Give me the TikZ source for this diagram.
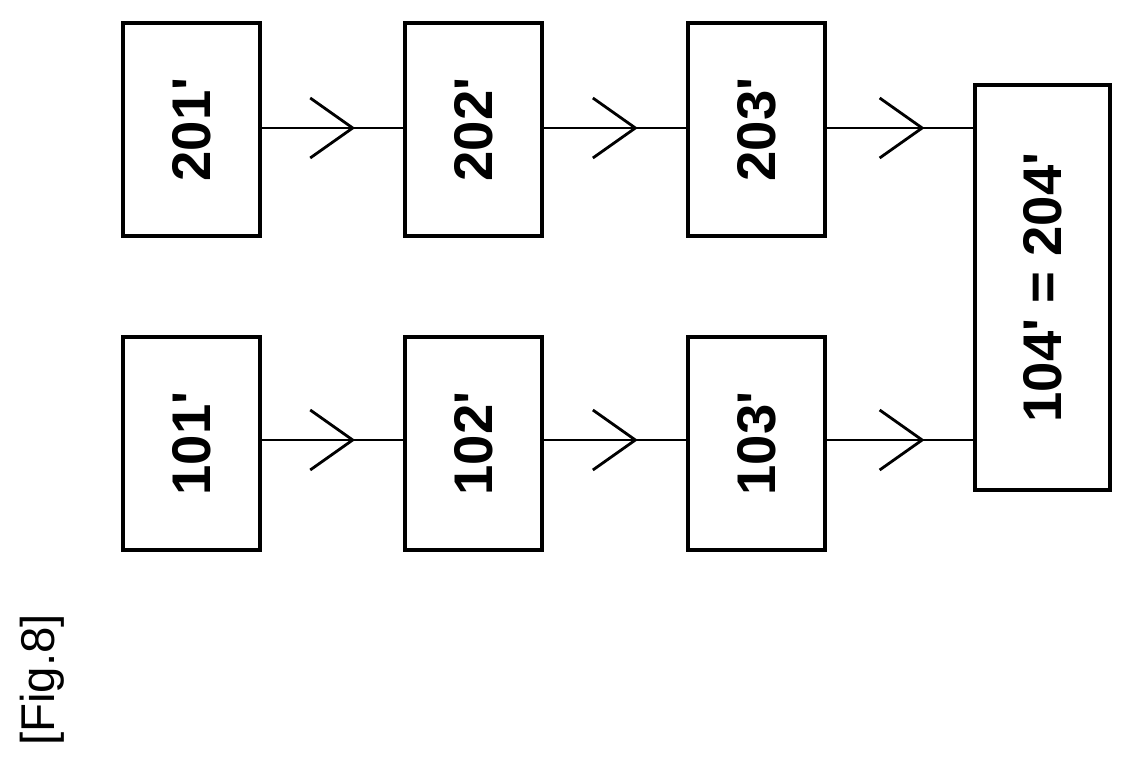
\documentclass[tikz,border=0pt]{standalone}
\usepackage{fontspec}
\setmainfont[Ligatures=NoCommon,Mapping=]{Liberation Sans}
\usetikzlibrary{arrows.meta,decorations.markings}
\newcommand{\pr}{\symbol{"0027}}
\begin{document}
\begin{tikzpicture}[x=0.02cm,y=-0.02cm,
    blockbox/.style={draw, line width=2pt, minimum width=2.74cm, minimum height=4.26cm, inner sep=0pt},
    link/.style={line width=1.6pt, postaction={decorate}, decoration={markings,
        mark=at position 0.66 with {\arrow{Straight Barb[length=0.85cm, width=1.2cm, line width=1.6pt]}}}},
    lbl/.style={rotate=90, font=\fontsize{31}{31}\selectfont\bfseries}]
    \useasboundingbox (0,0) rectangle (1134,763);

    \node[blockbox] (b201) at (191.5,129.5) {};
    \node[blockbox] (b202) at (473.5,129.5) {};
    \node[blockbox] (b203) at (756.5,129.5) {};
    \node[blockbox] (b101) at (191.5,443.5) {};
    \node[blockbox] (b102) at (473.5,443.5) {};
    \node[blockbox] (b103) at (756.5,443.5) {};
    \node[blockbox, minimum width=2.7cm, minimum height=8.1cm] (b104) at (1042.5,287.5) {};

    \node[lbl] at (b201) {201\pr};
    \node[lbl] at (b202) {202\pr};
    \node[lbl] at (b203) {203\pr};
    \node[lbl] at (b101) {101\pr};
    \node[lbl] at (b102) {102\pr};
    \node[lbl] at (b103) {103\pr};
    \node[lbl] at (b104) {104\pr{} = 204\pr};

    \coordinate (in1) at (975,128);
    \coordinate (in2) at (975,440);
    \draw[link] (b201.east |- 0,128) -- (b202.west |- 0,128);
    \draw[link] (b202.east |- 0,128) -- (b203.west |- 0,128);
    \draw[link] (b203.east |- 0,128) -- (in1);
    \draw[link] (b101.east |- 0,440) -- (b102.west |- 0,440);
    \draw[link] (b102.east |- 0,440) -- (b103.west |- 0,440);
    \draw[link] (b103.east |- 0,440) -- (in2);

    \node[rotate=90, font=\fontsize{27}{27}\selectfont] (fig) at (42,680) {[Fig.8]};
\end{tikzpicture}
\end{document}
